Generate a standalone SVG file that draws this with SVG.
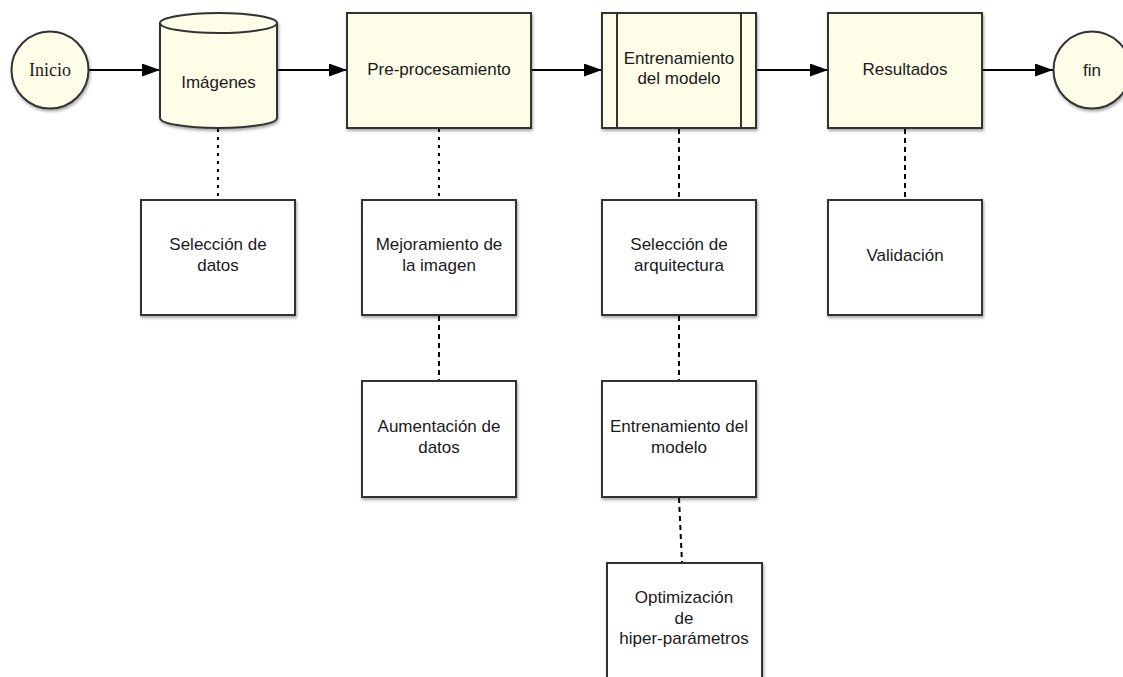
<svg xmlns="http://www.w3.org/2000/svg" width="1123" height="677" viewBox="0 0 1123 677">
  <style>
    .shape { fill: #fdfde8; stroke: #333333; stroke-width: 2; filter: url(#shadow); }
    .plain { fill: #ffffff; stroke: #333333; stroke-width: 2; filter: url(#shadow); }
    .inner { fill: none; stroke: #333333; stroke-width: 2; }
    .label { font-family: "Liberation Sans", Arial, sans-serif; font-size: 17px; fill: #1a1a1a; text-anchor: middle; }
    .serif { font-family: "Liberation Serif", "Times New Roman", serif; font-size: 18px; fill: #1a1a1a; text-anchor: middle; }
    .flow { fill: none; stroke: #000000; stroke-width: 2; marker-end: url(#arrow); }
    .dot { fill: none; stroke: #000000; stroke-width: 2; stroke-dasharray: 3 5; }
    .dash { fill: none; stroke: #000000; stroke-width: 2; stroke-dasharray: 5 4; }
  </style>
  <defs>
    <filter id="shadow" x="-10%" y="-10%" width="130%" height="130%">
      <feDropShadow dx="1" dy="2" stdDeviation="1.5" flood-color="#000000" flood-opacity="0.35"/>
    </filter>
    <marker id="arrow" viewBox="0 0 18 13" refX="18" refY="6.5" markerWidth="18" markerHeight="13" markerUnits="userSpaceOnUse" orient="auto">
      <path d="M0,0 L18,6.5 L0,13 Z" fill="#000000"/>
    </marker>
  </defs>

  <!-- connectors -->
  <g id="connectors">
    <line class="flow" x1="89" y1="70" x2="160" y2="70"/>
    <line class="flow" x1="277" y1="70" x2="347" y2="70"/>
    <line class="flow" x1="531" y1="70" x2="602" y2="70"/>
    <line class="flow" x1="756" y1="70" x2="828" y2="70"/>
    <line class="flow" x1="982" y1="70" x2="1053" y2="70"/>
    <line class="dot" x1="218" y1="129" x2="218" y2="200"/>
    <line class="dot" x1="439" y1="129" x2="439" y2="200"/>
    <line class="dash" x1="679" y1="129" x2="679" y2="200"/>
    <line class="dash" x1="905" y1="129" x2="905" y2="200"/>
    <line class="dash" x1="439" y1="316" x2="439" y2="381"/>
    <line class="dash" x1="679" y1="316" x2="679" y2="381"/>
    <line class="dash" x1="679" y1="498" x2="682" y2="563"/>
  </g>

  <g id="inicio">
    <circle class="shape" cx="50" cy="70" r="38.5"/>
    <text class="serif" x="50" y="76">Inicio</text>
  </g>

  <g id="imagenes">
    <path class="shape" d="M160,23 A58.5,10 0 0 1 277,23 L277,118 A58.5,10 0 0 1 160,118 Z"/>
    <path class="inner" d="M160,23 A58.5,10 0 0 0 277,23"/>
    <text class="label" x="218.5" y="88">Imágenes</text>
  </g>

  <g id="preprocesamiento">
    <rect class="shape" x="347" y="13" width="184" height="115"/>
    <text class="label" x="439" y="75">Pre-procesamiento</text>
  </g>

  <g id="entrenamiento">
    <rect class="shape" x="602" y="13" width="154" height="115"/>
    <line class="inner" x1="617" y1="13" x2="617" y2="128"/>
    <line class="inner" x1="741" y1="13" x2="741" y2="128"/>
    <text class="label" x="679" y="64">Entrenamiento</text>
    <text class="label" x="679" y="84">del modelo</text>
  </g>

  <g id="resultados">
    <rect class="shape" x="828" y="13" width="154" height="115"/>
    <text class="label" x="905" y="75">Resultados</text>
  </g>

  <g id="fin">
    <circle class="shape" cx="1092" cy="70" r="38.5"/>
    <text class="label" x="1092" y="76">fin</text>
  </g>

  <g id="seleccion-datos">
    <rect class="plain" x="141" y="200" width="154" height="115"/>
    <text class="label" x="218" y="250">Selección de</text>
    <text class="label" x="218" y="271">datos</text>
  </g>

  <g id="mejoramiento">
    <rect class="plain" x="362" y="200" width="154" height="115"/>
    <text class="label" x="439" y="250">Mejoramiento de</text>
    <text class="label" x="439" y="271">la imagen</text>
  </g>

  <g id="aumentacion">
    <rect class="plain" x="362" y="381" width="154" height="116"/>
    <text class="label" x="439" y="432">Aumentación de</text>
    <text class="label" x="439" y="453">datos</text>
  </g>

  <g id="seleccion-arquitectura">
    <rect class="plain" x="602" y="200" width="154" height="115"/>
    <text class="label" x="679" y="250">Selección de</text>
    <text class="label" x="679" y="271">arquitectura</text>
  </g>

  <g id="entrenamiento-modelo">
    <rect class="plain" x="602" y="381" width="154" height="116"/>
    <text class="label" x="679" y="432">Entrenamiento del</text>
    <text class="label" x="679" y="453">modelo</text>
  </g>

  <g id="optimizacion">
    <rect class="plain" x="607" y="563" width="155" height="130"/>
    <text class="label" x="684" y="603">Optimización</text>
    <text class="label" x="684" y="624">de</text>
    <text class="label" x="684" y="644">hiper-parámetros</text>
  </g>

  <g id="validacion">
    <rect class="plain" x="828" y="200" width="154" height="115"/>
    <text class="label" x="905" y="261">Validación</text>
  </g>
</svg>
